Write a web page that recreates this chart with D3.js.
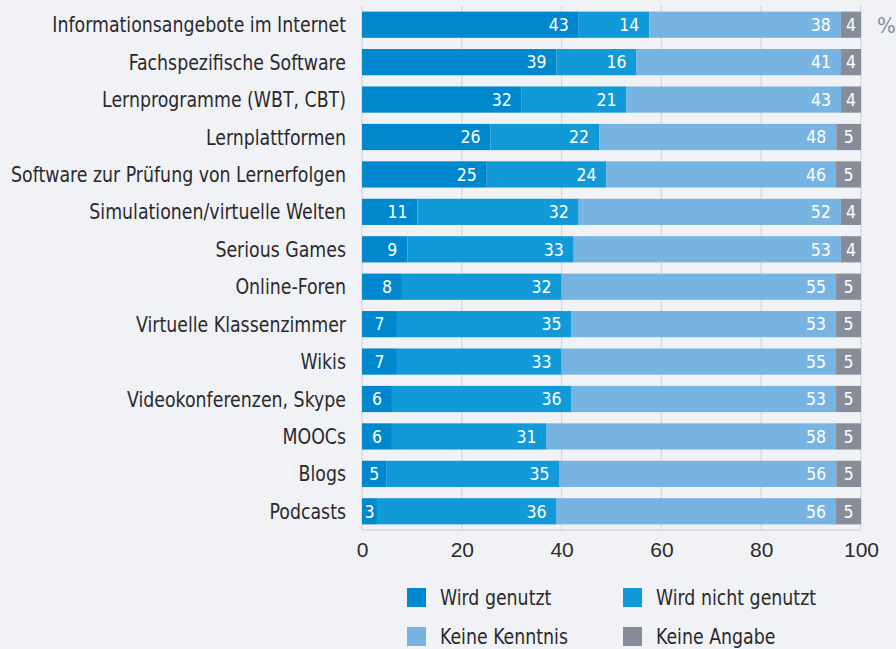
<!DOCTYPE html>
<html><head><meta charset="utf-8">
<script src="https://cdn.jsdelivr.net/npm/d3@7"></script>
<style>
html,body{margin:0;padding:0;background:#f1f2f6;}
svg{display:block;font-family:"DejaVu Sans Condensed","DejaVu Sans",sans-serif;font-stretch:condensed;}
</style></head><body>
<svg id="chart" width="896" height="649"></svg>
<script>
const categories = ["Informationsangebote im Internet","Fachspezifische Software","Lernprogramme (WBT, CBT)","Lernplattformen","Software zur Prüfung von Lernerfolgen","Simulationen/virtuelle Welten","Serious Games","Online-Foren","Virtuelle Klassenzimmer","Wikis","Videokonferenzen, Skype","MOOCs","Blogs","Podcasts"];
const seriesNames = ["Wird genutzt","Wird nicht genutzt","Keine Kenntnis","Keine Angabe"];
const genutzt      = [43,39,32,26,25,11,9,8,7,7,6,6,5,3];
const nichtGenutzt = [14,16,21,22,24,32,33,32,35,33,36,31,35,36];
const keineKenntnis= [38,41,43,48,46,52,53,55,53,55,53,58,56,56];
const keineAngabe  = [4,4,4,5,5,4,4,5,5,5,5,5,5,5];
const xTicks = [0,20,40,60,80,100];
const colors = ["#0088cf","#129ad8","#78b4e2","#868d98"];

const seriesValues = [genutzt,nichtGenutzt,keineKenntnis,keineAngabe];
const rows = categories.map((c,i)=>{const o={cat:c}; seriesNames.forEach((s,j)=>o[s]=seriesValues[j][i]); return o;});
// bars are shown normalised to 100 %
const stack = d3.stack().keys(seriesNames).offset(d3.stackOffsetExpand)(rows);

const svg = d3.select("#chart");
const m = {left:362, right:861, top:6, bottom:530};
const x = d3.scaleLinear().domain([0,100]).range([m.left,m.right]);
const y = d3.scaleBand().domain(categories).range([m.top,m.bottom]).paddingInner(0.3).paddingOuter(0.15);
const narrow = 0.92;

// gridlines + frame
svg.append("g").selectAll("line").data(xTicks).join("line")
  .attr("x1",d=>x(d)).attr("x2",d=>x(d)).attr("y1",m.top).attr("y2",m.bottom)
  .attr("stroke","#d9dadf").attr("stroke-width",1.5);
svg.append("line").attr("x1",m.left).attr("x2",m.right).attr("y1",m.bottom).attr("y2",m.bottom)
  .attr("stroke","#d9dadf").attr("stroke-width",1.5);

const g = svg.append("g");
stack.forEach((s,j)=>{
  const sg = g.append("g");
  const x0 = d=>x(d[0]*100), x1 = d=>x(d[1]*100);
  sg.selectAll("rect").data(s).join("rect")
    .attr("x",x0).attr("width",d=>x1(d)-x0(d))
    .attr("y",d=>y(d.data.cat)).attr("height",y.bandwidth())
    .attr("fill",colors[j]);
  const centred = d=> j===3 || (x1(d)-x0(d))<38;
  sg.selectAll("text").data(s).join("text")
    .attr("x",d=>centred(d)?(x0(d)+x1(d))/2:x1(d)-10)
    .attr("text-anchor",d=>centred(d)?"middle":"end")
    .attr("y",d=>y(d.data.cat)+y.bandwidth()/2).attr("dy","0.36em")
    .attr("fill","#ffffff").attr("font-size",17.5)
    .text(d=>d.data[seriesNames[j]]);
});

// category labels
svg.append("g").attr("transform",`translate(346,0) scale(${narrow},1)`)
  .selectAll("text").data(categories).join("text")
  .attr("x",0).attr("y",d=>y(d)+y.bandwidth()/2).attr("dy","0.36em")
  .attr("text-anchor","end").attr("font-size",21).attr("fill","#2a2a2e").text(d=>d);

// x axis labels
const xAxis = d3.axisBottom(x).tickValues(xTicks).tickSize(0).tickPadding(12);
const ax = svg.append("g").attr("transform",`translate(0,${m.bottom})`).call(xAxis);
ax.select(".domain").remove();
ax.selectAll("text").attr("font-size",21).attr("fill","#2a2a2e").attr("font-family","inherit");

// percent sign
svg.append("text").attr("x",877).attr("y",y(categories[0])+y.bandwidth()/2).attr("dy","0.36em")
  .attr("font-size",22).attr("fill","#8a8f98").text("%");

// legend
const legPos = [[407,597],[623,597],[407,636],[623,636]];
const leg = svg.append("g").selectAll("g").data(seriesNames).join("g")
  .attr("transform",(d,i)=>`translate(${legPos[i][0]},${legPos[i][1]})`);
leg.append("rect").attr("x",0).attr("y",-9).attr("width",19).attr("height",19).attr("fill",(d,i)=>colors[i]);
leg.append("text").attr("transform",`translate(33,0) scale(${narrow},1)`).attr("dy","0.36em")
  .attr("font-size",21).attr("fill","#2a2a2e").text(d=>d);
</script>
</body></html>
